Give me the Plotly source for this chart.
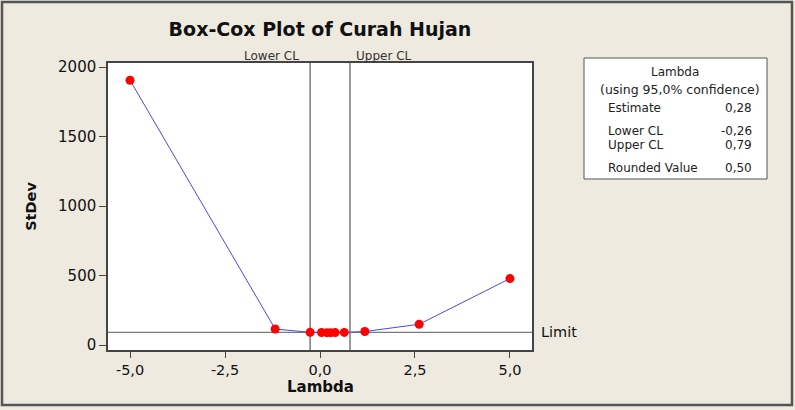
import plotly.graph_objects as go

# Data
lambdas = [-5.0, -1.18, -0.26, 0.04, 0.18, 0.28, 0.40, 0.64, 1.18, 2.61, 5.0]
stdevs = [1905, 115, 91, 90, 89, 89, 89.5, 90.5, 97, 149, 478]
lower_cl = -0.26
upper_cl = 0.79
limit = 91
x_tickvals = [-5, -2.5, 0, 2.5, 5]
x_ticktext = ["-5,0", "-2,5", "0,0", "2,5", "5,0"]
y_tickvals = [0, 500, 1000, 1500, 2000]
y_ticktext = ["0", "500", "1000", "1500", "2000"]
legend_rows = [("Estimate", "0,28"), ("Lower CL", "-0,26"), ("Upper CL", "0,79"), ("Rounded Value", "0,50")]

W, H = 795, 410
L, R, T, B = 108, 263, 63, 60
bg = "#EEEAE0"
font = "DejaVu Sans"

fig = go.Figure()
fig.add_trace(go.Scatter(
    x=lambdas, y=stdevs, mode="lines+markers",
    line=dict(color="#4848F0", width=1),
    marker=dict(color="#FF0000", size=9),
    showlegend=False, hoverinfo="skip"))

fig.update_layout(
    width=W, height=H,
    margin=dict(l=L, r=R, t=T, b=B, pad=0),
    paper_bgcolor=bg, plot_bgcolor="white",
    font=dict(family=font, color="#111111"),
    title=dict(text="<b>Box-Cox Plot of Curah Hujan</b>", x=320 / W, xanchor="center",
               y=1 - 29 / H, yanchor="middle", font=dict(size=19, color="#111111")),
    xaxis=dict(range=[-5.58, 5.58], tickvals=x_tickvals, ticktext=x_ticktext,
               showgrid=False, zeroline=False, showline=True, linecolor="#444444", linewidth=1.5,
               mirror=True, ticks="outside", ticklen=6, tickcolor="#444444",
               tickfont=dict(size=14.5, color="#111111")),
    yaxis=dict(range=[-36, 2029], tickvals=y_tickvals, ticktext=y_ticktext,
               showgrid=False, zeroline=False, showline=True, linecolor="#444444", linewidth=1.5,
               mirror=True, ticks="outside", ticklen=7, tickcolor="#444444",
               tickfont=dict(size=15, color="#111111"),
               title=dict(text="<b>StDev</b>", font=dict(size=14.5), standoff=18)),
)

shapes = []
# CL lines
for v in (lower_cl, upper_cl):
    shapes.append(dict(type="line", xref="x", yref="paper", x0=v, x1=v, y0=0, y1=1,
                       line=dict(color="#7A7A7A", width=1.5), layer="below"))
# Limit line
shapes.append(dict(type="line", xref="paper", yref="y", x0=0, x1=1, y0=limit, y1=limit,
                   line=dict(color="#7A7A7A", width=1.2), layer="below"))
# outer border
shapes.append(dict(type="rect", xref="paper", yref="paper",
                   x0=-(L - 2) / (W - L - R), x1=1 + (R - 3) / (W - L - R),
                   y0=-(B - 5) / (H - T - B), y1=1 + (T - 2) / (H - T - B),
                   line=dict(color="#555555", width=2.5), fillcolor="rgba(0,0,0,0)"))
# legend box
pw, ph = W - L - R, H - T - B
def px(xp):
    return (xp - L) / pw
def py(yp):
    return (H - B - yp) / ph
shapes.append(dict(type="rect", xref="paper", yref="paper",
                   x0=px(584), x1=px(767), y0=py(179), y1=py(58),
                   line=dict(color="#555555", width=1), fillcolor="white"))
fig.update_layout(shapes=shapes)

ann = []
ann.append(dict(text="<b>Lambda</b>", xref="paper", yref="paper", x=px(320), y=py(387),
                xanchor="center", yanchor="middle", showarrow=False, font=dict(size=15, color="#111111")))
ann.append(dict(text="Lower CL", xref="x", yref="paper", x=lower_cl, y=py(56), xanchor="right",
                yanchor="middle", xshift=-9, showarrow=False, font=dict(size=12, color="#333333")))
ann.append(dict(text="Upper CL", xref="x", yref="paper", x=upper_cl, y=py(56), xanchor="left",
                yanchor="middle", xshift=4, showarrow=False, font=dict(size=12, color="#333333")))
ann.append(dict(text="Limit", xref="paper", yref="y", x=1, y=limit, xanchor="left", yanchor="middle",
                xshift=7, showarrow=False, font=dict(size=14.5, color="#111111")))
ann.append(dict(text="Lambda", xref="paper", yref="paper", x=px(675), y=py(72), xanchor="center",
                yanchor="middle", showarrow=False, font=dict(size=12, color="#222222")))
ann.append(dict(text="(using 95,0% confidence)", xref="paper", yref="paper", x=px(680), y=py(89),
                xanchor="center", yanchor="middle", showarrow=False, font=dict(size=12.5, color="#222222")))
row_y = [108, 131, 145, 168]
for (lab, val), yy in zip(legend_rows, row_y):
    ann.append(dict(text=lab, xref="paper", yref="paper", x=px(606), y=py(yy), xanchor="left",
                    yanchor="middle", showarrow=False, font=dict(size=12, color="#222222")))
    ann.append(dict(text=val, xref="paper", yref="paper", x=px(754), y=py(yy), xanchor="right",
                    yanchor="middle", showarrow=False, font=dict(size=12, color="#222222")))
fig.update_layout(annotations=ann)

fig.write_html("out.html")
